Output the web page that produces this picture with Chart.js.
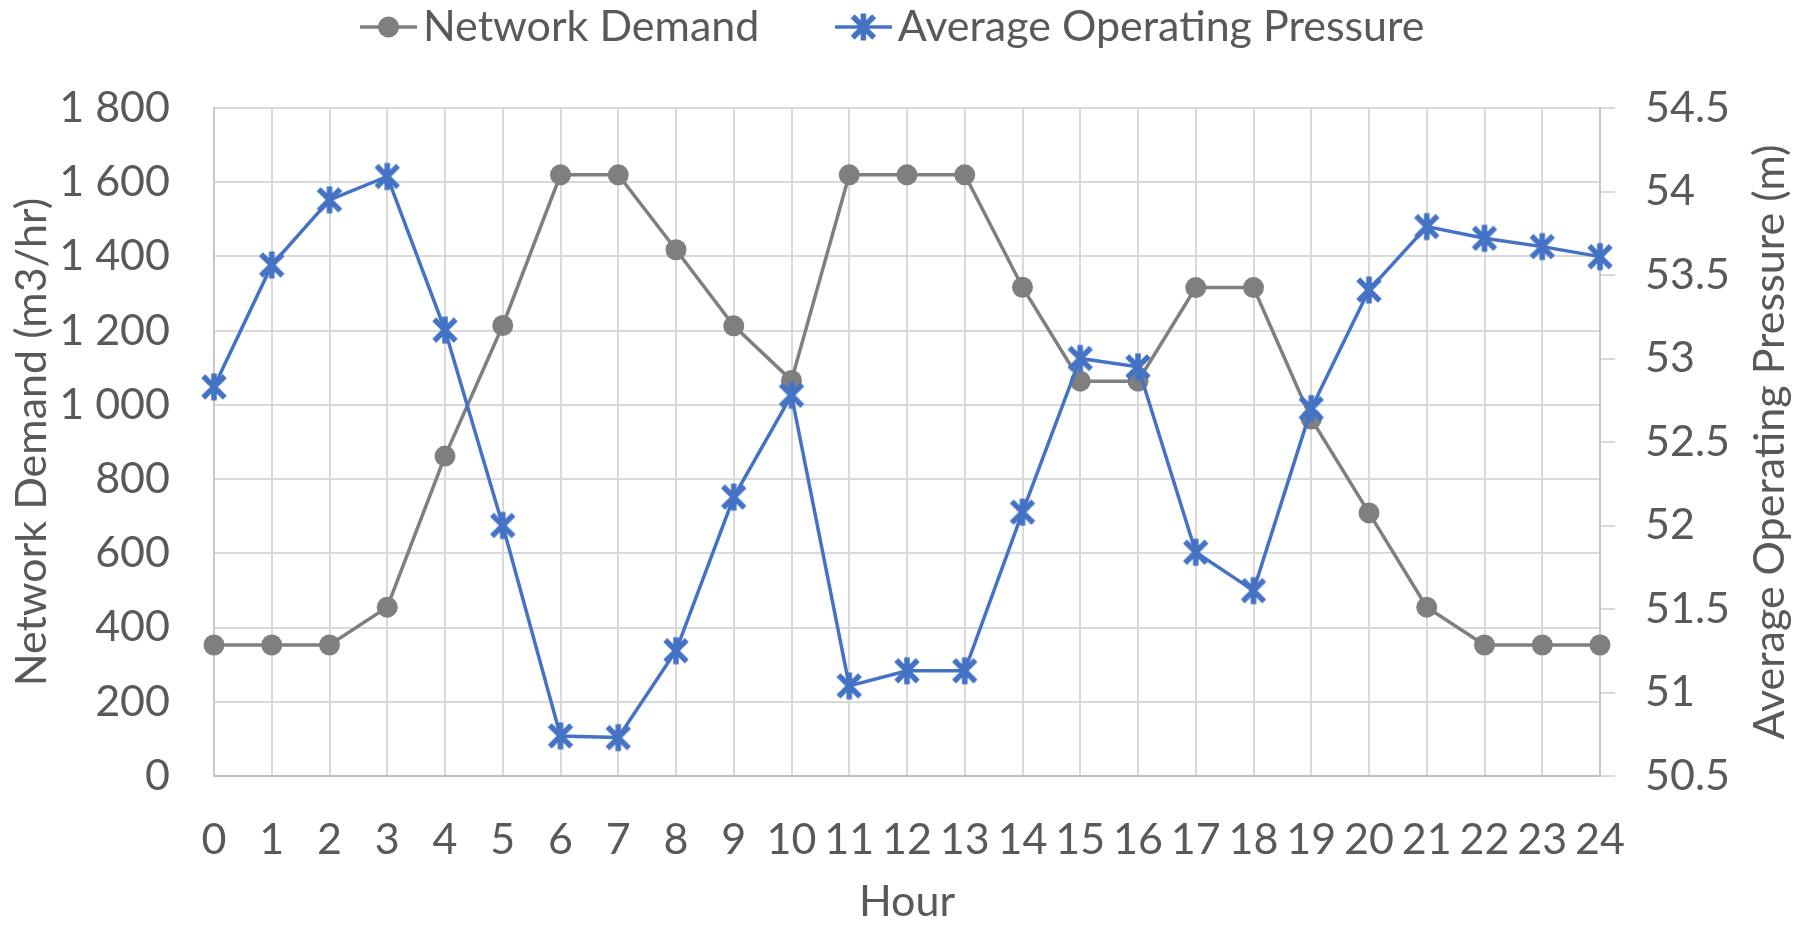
<!DOCTYPE html>
<html><head><meta charset="utf-8">
<script src="https://cdn.jsdelivr.net/npm/chart.js@4.4.1/dist/chart.umd.min.js"></script>
<style>html,body{margin:0;padding:0;background:#fff;}#wrap{width:1800px;height:929px;}</style>
</head><body><div id="wrap"><canvas id="c" width="1800" height="929"></canvas></div>
<script>
const hours = ['0','1','2','3','4','5','6','7','8','9','10','11','12','13','14','15','16','17','18','19','20','21','22','23','24'];
const networkDemand = [353,353,353,455,862,1214,1620,1620,1418,1213,1066,1620,1620,1620,1317,1064,1064,1316,1316,962,709,455,353,353,353];
const avgPressure = [52.83,53.56,53.95,54.09,53.17,52.00,50.74,50.73,51.25,52.17,52.78,51.04,51.13,51.13,52.08,53.00,52.95,51.84,51.61,52.70,53.41,53.79,53.72,53.67,53.61];
const seriesNames = ['Network Demand','Average Operating Pressure'];
const axisTitles = ['Hour','Network Demand (m3/hr)','Average Operating Pressure (m)'];

const GRAY = '#7f7f7f', BLUE = '#4472C4', TXT = '#595959', GRID = '#d9d9d9';
const FONT = {family: 'Lato', size: 43};

function drawStar(g, cx, cy, s, lw, color){
  g.strokeStyle = color; g.lineWidth = lw; g.lineCap = 'butt';
  const h = s/2 - lw/2;
  g.beginPath();
  g.moveTo(cx-h, cy-h); g.lineTo(cx+h, cy+h);
  g.moveTo(cx+h, cy-h); g.lineTo(cx-h, cy+h);
  g.moveTo(cx, cy-s/2); g.lineTo(cx, cy+s/2);
  g.stroke();
}
function makeStar(){
  const s = 30, c = document.createElement('canvas'); c.width = s; c.height = s;
  drawStar(c.getContext('2d'), s/2, s/2, 27, 5.5, BLUE); return c;
}
function makeLegendImg(kind){
  const w = 57, h = 30, c = document.createElement('canvas'); c.width = w; c.height = h;
  const g = c.getContext('2d');
  g.strokeStyle = kind === 'circle' ? GRAY : BLUE; g.lineWidth = 3.5;
  g.beginPath(); g.moveTo(0, h/2); g.lineTo(w, h/2); g.stroke();
  if (kind === 'circle') { g.fillStyle = GRAY; g.beginPath(); g.arc(w/2, h/2, 10.5, 0, Math.PI*2); g.fill(); }
  else drawStar(g, w/2, h/2, 27, 5.5, BLUE);
  return c;
}
const starImg = makeStar();
const legendImgs = [makeLegendImg('circle'), makeLegendImg('star')];

const LEG_PAD = 91, LEG_TOP = -85.5, PLOT_TOP = 108;

const legendHeightPlugin = {
  id: 'legendHeight',
  afterInit(chart){
    const lg = chart.legend;
    const orig = lg.fit;
    lg.fit = function(){ orig.call(this); this.height = PLOT_TOP - LEG_TOP; };
  }
};
const rightTitlePlugin = {
  id: 'rightTitle',
  afterDraw(chart){
    const s = chart.scales.y1, ctx = chart.ctx;
    ctx.save();
    ctx.translate(s.right - 30, (s.top + s.bottom)/2);
    ctx.rotate(-Math.PI/2);
    ctx.font = FONT.size + 'px ' + FONT.family;
    ctx.fillStyle = TXT; ctx.textAlign = 'center'; ctx.textBaseline = 'middle';
    ctx.fillText(axisTitles[2], 0, 0);
    ctx.restore();
  }
};

function fmtThousands(v){
  if (v >= 1000) return Math.floor(v/1000) + ' ' + String(v % 1000).padStart(3, '0');
  return String(v);
}

new Chart(document.getElementById('c'), {
  type: 'line',
  data: {
    labels: hours,
    datasets: [
      { label: seriesNames[0], data: networkDemand, yAxisID: 'y', borderColor: GRAY, backgroundColor: GRAY,
        borderWidth: 3.5, pointStyle: 'circle', pointRadius: 10.5, pointBorderWidth: 0, pointBackgroundColor: GRAY,
        tension: 0, clip: false, order: 1 },
      { label: seriesNames[1], data: avgPressure, yAxisID: 'y1', borderColor: BLUE, backgroundColor: BLUE,
        borderWidth: 3.5, pointStyle: starImg, pointRadius: 13, tension: 0, clip: false, order: 0 }
    ]
  },
  options: {
    responsive: false, animation: false, devicePixelRatio: 1,
    layout: { padding: { top: LEG_TOP, left: 0, right: 0, bottom: 0 } },
    plugins: {
      tooltip: { enabled: false },
      legend: {
        position: 'top', align: 'center',
        labels: {
          usePointStyle: true, pointStyleWidth: 26, padding: LEG_PAD, color: TXT, font: FONT,
          sort: (a, b) => a.datasetIndex - b.datasetIndex,
          generateLabels(chart){
            const items = Chart.defaults.plugins.legend.labels.generateLabels(chart);
            items.forEach(it => { it.pointStyle = legendImgs[it.datasetIndex]; it.fontColor = TXT; });
            return items;
          }
        }
      }
    },
    scales: {
      x: {
        type: 'category', offset: false,
        grid: { color: GRID, lineWidth: 2, drawTicks: false },
        border: { color: '#bfbfbf', width: 2 },
        ticks: { font: FONT, color: TXT, padding: 38, autoSkip: false, maxRotation: 0 },
        title: { display: true, text: axisTitles[0], font: FONT, color: TXT, padding: { top: 0, bottom: 1 } },
        afterFit(s){ s.height = 153; }
      },
      y: {
        position: 'left', min: 0, max: 1800,
        grid: { color: GRID, lineWidth: 2, drawTicks: false },
        border: { color: '#c8c8c8', width: 2 },
        ticks: { stepSize: 200, font: FONT, color: TXT, padding: 44, callback: v => fmtThousands(v) },
        title: { display: true, text: axisTitles[1], font: FONT, color: TXT, padding: { top: 6, bottom: 0 } },
        afterFit(s){ s.width = 214; }
      },
      y1: {
        position: 'right', min: 50.5, max: 54.5,
        grid: { drawOnChartArea: false, drawTicks: true, tickLength: 15, tickColor: GRID, lineWidth: 2, color: GRID },
        border: { color: '#c8c8c8', width: 2 },
        ticks: { stepSize: 0.5, font: FONT, color: TXT, padding: 30, callback: v => String(Number(v.toFixed(1))) },
        afterFit(s){ s.width = 200; }
      }
    }
  },
  plugins: [legendHeightPlugin, rightTitlePlugin]
});
</script></body></html>
